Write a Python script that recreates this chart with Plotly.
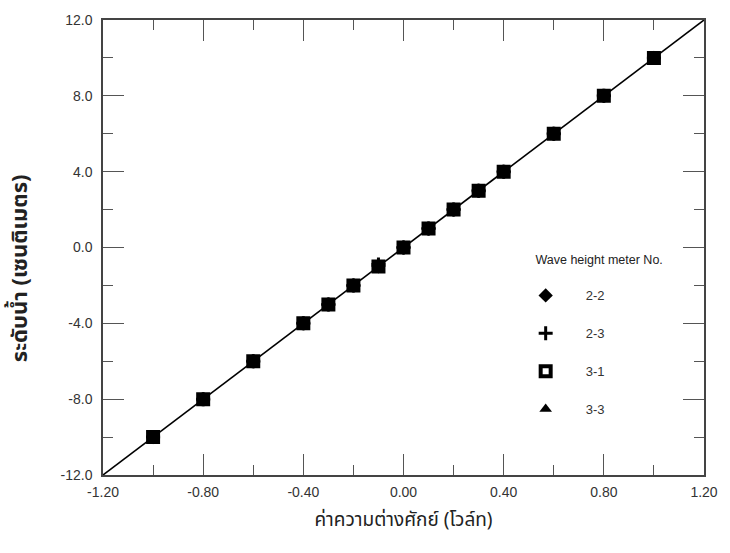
import plotly.graph_objects as go

# Data
voltage = [-1.0, -0.8, -0.6, -0.4, -0.3, -0.2, -0.1, 0.0, 0.1, 0.2, 0.3, 0.4, 0.6, 0.8, 1.0]
level_22 = [-10.0, -8.0, -6.0, -4.0, -3.0, -2.0, -1.0, 0.0, 1.0, 2.0, 3.0, 4.0, 6.0, 8.0, 10.0]
level_23 = [-10.0, -8.0, -6.0, -4.0, -3.0, -2.0, -0.9, 0.0, 1.0, 2.0, 3.0, 4.0, 6.0, 8.0, 10.0]
level_31 = [-10.0, -8.0, -6.0, -4.0, -3.0, -2.0, -1.0, 0.0, 1.0, 2.0, 3.0, 4.0, 6.0, 8.0, 10.0]
level_33 = [-10.0, -8.0, -6.0, -4.0, -3.0, -2.0, -1.0, 0.0, 1.0, 2.0, 3.0, 4.0, 6.0, 8.0, 10.0]
fit_x = [-1.2, 1.2]
fit_y = [-12.0, 12.0]

x_ticks = [-1.2, -0.8, -0.4, 0.0, 0.4, 0.8, 1.2]
x_ticklabels = ["-1.20", "-0.80", "-0.40", "0.00", "0.40", "0.80", "1.20"]
y_ticks = [-12, -8, -4, 0, 4, 8, 12]
y_ticklabels = ["-12.0", "-8.0", "-4.0", "0.0", "4.0", "8.0", "12.0"]

series = [
    ("2-2", level_22, dict(symbol="diamond", size=11, color="black")),
    ("2-3", level_23, dict(symbol="cross-thin", size=10, color="black", line=dict(width=3, color="black"))),
    ("3-1", level_31, dict(symbol="square-open", size=10, color="black", line=dict(width=4, color="black"))),
    ("3-3", level_33, dict(symbol="triangle-up", size=11, color="black")),
]

fig = go.Figure()
fig.add_trace(go.Scatter(x=fit_x, y=fit_y, mode="lines",
                         line=dict(color="black", width=1.6), showlegend=False))
for i, (name, vals, mk) in enumerate(series):
    fig.add_trace(go.Scatter(x=voltage, y=vals, mode="markers", name=name,
                             marker=mk, legendgroup="g%d" % i))

thai = "Noto Sans Thai, Loma, Garuda, Tlwg Typo, Liberation Sans, Arial, sans-serif"
tickfont = dict(family="Liberation Sans, Arial, sans-serif", size=14, color="#333")

axis_common = dict(
    showgrid=False, zeroline=False, showline=True, linecolor="#444", linewidth=1.5,
    mirror="allticks", ticks="inside", ticklen=21, tickwidth=1, tickcolor="#555",
    tickfont=tickfont,
    minor=dict(ticks="inside", ticklen=10, tickwidth=1, tickcolor="#555"),
)

fig.update_xaxes(range=[-1.2, 1.2], tickvals=x_ticks, ticktext=x_ticklabels,
                 minor_dtick=0.2, minor_tick0=0, ticklabelstandoff=3,
                 title=dict(text="ค่าความต่างศักย์ (โวล์ท)",
                            font=dict(family=thai, size=19, color="#222"), standoff=14),
                 **axis_common)
fig.update_yaxes(range=[-12, 12], tickvals=y_ticks, ticktext=y_ticklabels,
                 minor_dtick=2, minor_tick0=0, ticklabelstandoff=6,
                 **axis_common)

fig.add_annotation(text="<b>ระดับน้ำ (เซนติเมตร)</b>", textangle=-90,
                   xref="paper", yref="paper", x=-0.136, y=0.455,
                   xanchor="center", yanchor="middle", showarrow=False,
                   font=dict(family=thai, size=22, color="#222"))

fig.update_layout(
    width=730, height=553,
    margin=dict(l=103, r=21, t=19, b=78),
    plot_bgcolor="white", paper_bgcolor="white",
    legend=dict(
        x=0.670, y=0.499, xanchor="left", yanchor="top",
        bgcolor="rgba(0,0,0,0)", borderwidth=0,
        title=dict(text="&nbsp;" * 8 + "Wave height meter No.<br>&nbsp;",
                   font=dict(family="Liberation Sans, Arial, sans-serif", size=12.5, color="#222")),
        font=dict(family="Liberation Sans, Arial, sans-serif", size=13, color="#333"),
        tracegroupgap=18, itemwidth=70,
    ),
)

fig.write_html("out.html")
